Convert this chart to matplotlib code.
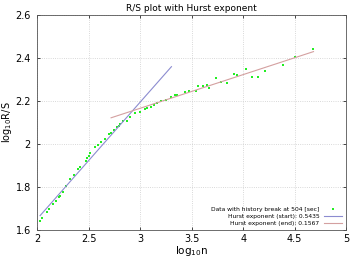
import matplotlib.pyplot as plt
import numpy as np

# log10(n) and log10(R/S)
log_n = [2.029, 2.045, 2.093, 2.115, 2.151, 2.180, 2.208, 2.221, 2.253, 2.285,
         2.324, 2.359, 2.397, 2.413, 2.471, 2.484, 2.500, 2.516, 2.564, 2.587,
         2.625, 2.660, 2.695, 2.718, 2.750, 2.776, 2.791, 2.808, 2.837, 2.872,
         2.901, 2.949, 2.997, 3.045, 3.064, 3.103, 3.135, 3.166, 3.205, 3.247,
         3.304, 3.343, 3.362, 3.433, 3.471, 3.541, 3.561, 3.609, 3.647, 3.667,
         3.734, 3.785, 3.840, 3.907, 3.945, 4.032, 4.083, 4.141, 4.208, 4.385,
         4.507, 4.683]
log_rs = [1.643, 1.654, 1.685, 1.699, 1.721, 1.736, 1.753, 1.760, 1.778, 1.805,
          1.836, 1.857, 1.882, 1.892, 1.921, 1.933, 1.944, 1.957, 1.987, 1.997,
          2.009, 2.025, 2.047, 2.050, 2.065, 2.078, 2.085, 2.092, 2.107, 2.108,
          2.127, 2.143, 2.150, 2.163, 2.166, 2.173, 2.183, 2.189, 2.199, 2.205,
          2.220, 2.229, 2.229, 2.242, 2.247, 2.247, 2.271, 2.271, 2.274, 2.260,
          2.306, 2.287, 2.284, 2.327, 2.321, 2.349, 2.313, 2.310, 2.341, 2.367,
          2.406, 2.442]

# Hurst fits (slope, intercept, x range)
h_start, b_start = 0.5435, 0.564
x_start = [2.029, 3.304]
h_end, b_end = 0.1567, 1.696
x_end = [2.718, 4.683]

fig = plt.figure(figsize=(3.5, 2.59), dpi=100)
ax = fig.add_axes([0.106, 0.112, 0.883, 0.830])

ax.plot(log_n, log_rs, 's', color='#22ee22', markersize=2.0, markeredgewidth=0,
        label='Data with history break at 504 [sec]')
xs = np.array(x_start)
ax.plot(xs, h_start * xs + b_start, color='#8c8cd0', linewidth=0.8,
        label=f'Hurst exponent (start): {h_start}')
xe = np.array(x_end)
ax.plot(xe, h_end * xe + b_end, color='#d4a0a0', linewidth=0.8,
        label=f'Hurst exponent (end): {h_end}')

ax.set_xlim(2, 5)
ax.set_ylim(1.6, 2.6)
ax.set_xticks([2, 2.5, 3, 3.5, 4, 4.5, 5])
ax.set_xticklabels(['2', '2.5', '3', '3.5', '4', '4.5', '5'])
ax.set_yticks([1.6, 1.8, 2.0, 2.2, 2.4, 2.6])
ax.set_yticklabels(['1.6', '1.8', '2', '2.2', '2.4', '2.6'])
ax.tick_params(labelsize=7, length=2, width=0.5, direction='in', top=True, right=True)
ax.tick_params(axis='y', pad=4.5)
ax.tick_params(axis='x', pad=3)
ax.grid(True, color='#cccccc', linestyle=':', linewidth=0.6)
for s in ax.spines.values():
    s.set_linewidth(0.6)
    s.set_color('#555555')

ax.set_xlabel(r'$\mathregular{log_{10}n}$', fontsize=7.5, labelpad=0)
ax.set_ylabel(r'$\mathregular{log_{10}R/S}$', fontsize=7, labelpad=1)
ax.set_title('R/S plot with Hurst exponent', fontsize=6.5, pad=3)

ax.legend(loc='lower right', fontsize=4.3, frameon=False, markerfirst=False,
          handlelength=3, handletextpad=0.8, labelspacing=0.3,
          borderaxespad=0.3, markerscale=1.0)

plt.savefig('out.png', dpi=100, facecolor='white')
plt.close()
